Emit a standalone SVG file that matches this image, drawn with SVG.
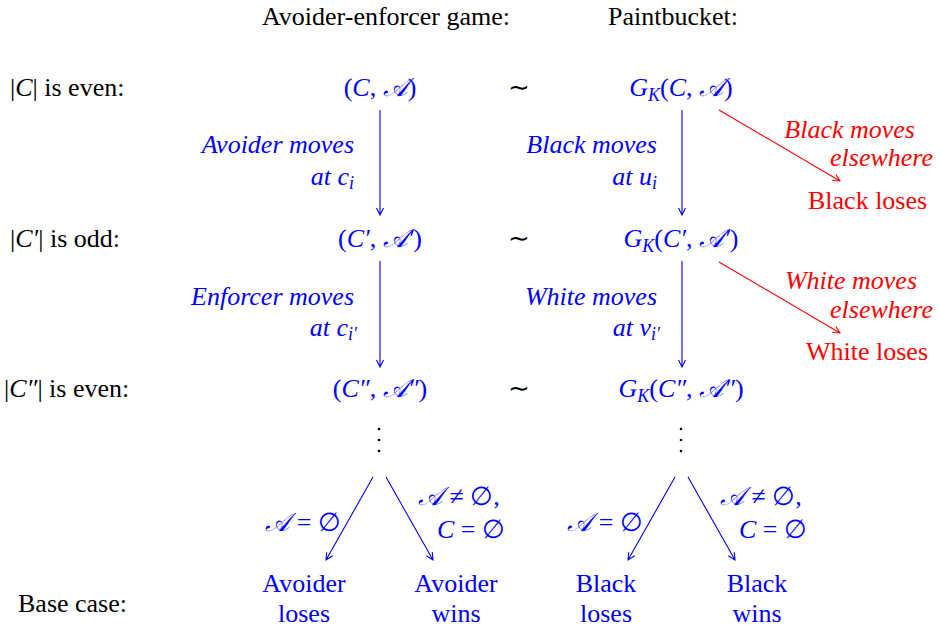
<svg xmlns="http://www.w3.org/2000/svg" width="941" height="632" viewBox="0 0 941 632">
<style>
.t{font-family:'Liberation Serif',serif;font-size:26px}
.b{fill:#0000ff}
.r{fill:#ff0000}
.k{fill:#000}
.i{font-style:italic}
.sub{font-size:18px}
.m{text-anchor:middle}
.e{text-anchor:end}
.cb{stroke:#0000ff;stroke-width:1.1;fill:none}
.cr{stroke:#ff0000;stroke-width:1.1;fill:none}
</style>

<g id="headers" class="k">
<text class="t m" font-family="Liberation Serif" x="386" y="25">Avoider-enforcer game:</text>
<text class="t m" font-family="Liberation Serif" x="673" y="25">Paintbucket:</text>
</g>

<g id="row-labels" class="k">
<text class="t" font-family="Liberation Serif" x="10" y="96">|<tspan class="i">C</tspan>| is even:</text>
<text class="t" font-family="Liberation Serif" x="10" y="247">|<tspan class="i">C′</tspan>| is odd:</text>
<text class="t" font-family="Liberation Serif" x="4" y="397">|<tspan class="i">C″</tspan>| is even:</text>
<text class="t" font-family="Liberation Serif" x="18" y="612">Base case:</text>
</g>

<g id="n1" class="b"><text class="t m" font-family="Liberation Serif" x="380" y="96">(<tspan class="i">C</tspan>, <tspan class="i">𝒜</tspan>)</text></g>
<g id="n2" class="b"><text class="t m" font-family="Liberation Serif" x="380" y="247">(<tspan class="i">C′</tspan>, <tspan class="i">𝒜′</tspan>)</text></g>
<g id="n3" class="b"><text class="t m" font-family="Liberation Serif" x="380" y="397">(<tspan class="i">C″</tspan>, <tspan class="i">𝒜″</tspan>)</text></g>
<g id="p1" class="b"><text class="t m" font-family="Liberation Serif" x="681" y="96"><tspan class="i">G</tspan><tspan class="i sub" dy="5">K</tspan><tspan dy="-5">(</tspan><tspan class="i">C</tspan>, <tspan class="i">𝒜</tspan>)</text></g>
<g id="p2" class="b"><text class="t m" font-family="Liberation Serif" x="681" y="247"><tspan class="i">G</tspan><tspan class="i sub" dy="5">K</tspan><tspan dy="-5">(</tspan><tspan class="i">C′</tspan>, <tspan class="i">𝒜′</tspan>)</text></g>
<g id="p3" class="b"><text class="t m" font-family="Liberation Serif" x="681" y="397"><tspan class="i">G</tspan><tspan class="i sub" dy="5">K</tspan><tspan dy="-5">(</tspan><tspan class="i">C″</tspan>, <tspan class="i">𝒜″</tspan>)</text></g>

<g id="sim" class="k">
<text class="t m" font-family="Liberation Serif" x="519" y="96">∼</text>
<text class="t m" font-family="Liberation Serif" x="519" y="247">∼</text>
<text class="t m" font-family="Liberation Serif" x="519" y="397">∼</text>
</g>

<g id="dots" class="k">
<circle cx="379" cy="429" r="1.3"/><circle cx="379" cy="440" r="1.3"/><circle cx="379" cy="451" r="1.3"/>
<circle cx="681" cy="429" r="1.3"/><circle cx="681" cy="440" r="1.3"/><circle cx="681" cy="451" r="1.3"/>
</g>

<g id="connectors">
<path class="cb" d="M380,110 V215 M376.5,208 L380,215 L383.5,208"/>
<path class="cb" d="M682,110 V215 M678.5,208 L682,215 L685.5,208"/>
<path class="cr" d="M719,110 L840,181 M832.3,180.5 L840,181 L835.8,174.5"/>
<path class="cb" d="M380,261 V367 M376.5,360 L380,367 L383.5,360"/>
<path class="cb" d="M682,261 V367 M678.5,360 L682,367 L685.5,360"/>
<path class="cr" d="M719,262 L840,333 M832.3,332.5 L840,333 L835.8,326.5"/>
<path class="cb" d="M373,477 L326,560 M326.7,552.2 L326,560 L332.7,555.7"/>
<path class="cb" d="M386,477 L433,560 M426.3,555.7 L433,560 L432.3,552.2"/>
<path class="cb" d="M675,477 L628,560 M628.7,552.2 L628,560 L634.7,555.7"/>
<path class="cb" d="M688,477 L735,560 M728.3,555.7 L735,560 L734.3,552.2"/>
</g>

<g id="edge-labels">
<text class="t b i e" font-family="Liberation Serif" x="354" y="153">Avoider moves</text>
<text class="t b i e" font-family="Liberation Serif" x="354" y="185">at <tspan>c</tspan><tspan class="sub" dy="4">i</tspan></text>
<text class="t b i e" font-family="Liberation Serif" x="657" y="153">Black moves</text>
<text class="t b i e" font-family="Liberation Serif" x="657" y="185">at <tspan>u</tspan><tspan class="sub" dy="4">i</tspan></text>
<text class="t r i e" font-family="Liberation Serif" x="915" y="138">Black moves</text>
<text class="t r i e" font-family="Liberation Serif" x="933" y="166">elsewhere</text>
<text class="t b i e" font-family="Liberation Serif" x="354" y="305">Enforcer moves</text>
<text class="t b i e" font-family="Liberation Serif" x="357" y="336">at <tspan>c</tspan><tspan class="sub" dy="4">i′</tspan></text>
<text class="t b i e" font-family="Liberation Serif" x="657" y="305">White moves</text>
<text class="t b i e" font-family="Liberation Serif" x="660" y="336">at <tspan>v</tspan><tspan class="sub" dy="4">i′</tspan></text>
<text class="t r i e" font-family="Liberation Serif" x="917" y="289">White moves</text>
<text class="t r i e" font-family="Liberation Serif" x="933" y="318">elsewhere</text>
<text class="t b e" font-family="Liberation Serif" x="341" y="531"><tspan class="i">𝒜</tspan> = ∅</text>
<text class="t b" font-family="Liberation Serif" x="418" y="505"><tspan class="i">𝒜</tspan> ≠ ∅,</text>
<text class="t b" font-family="Liberation Serif" x="437" y="538"><tspan class="i">C</tspan> = ∅</text>
<text class="t b e" font-family="Liberation Serif" x="643" y="531"><tspan class="i">𝒜</tspan> = ∅</text>
<text class="t b" font-family="Liberation Serif" x="720" y="505"><tspan class="i">𝒜</tspan> ≠ ∅,</text>
<text class="t b" font-family="Liberation Serif" x="739" y="538"><tspan class="i">C</tspan> = ∅</text>
</g>

<g id="outcome-black-loses"><text class="t r" font-family="Liberation Serif" x="808" y="209">Black loses</text></g>
<g id="outcome-white-loses"><text class="t r" font-family="Liberation Serif" x="806" y="360">White loses</text></g>
<g id="avoider-loses" class="b"><text class="t m" font-family="Liberation Serif" x="304" y="592">Avoider</text><text class="t m" font-family="Liberation Serif" x="304" y="622">loses</text></g>
<g id="avoider-wins" class="b"><text class="t m" font-family="Liberation Serif" x="456" y="592">Avoider</text><text class="t m" font-family="Liberation Serif" x="456" y="622">wins</text></g>
<g id="black-loses" class="b"><text class="t m" font-family="Liberation Serif" x="606" y="592">Black</text><text class="t m" font-family="Liberation Serif" x="606" y="622">loses</text></g>
<g id="black-wins" class="b"><text class="t m" font-family="Liberation Serif" x="757" y="592">Black</text><text class="t m" font-family="Liberation Serif" x="757" y="622">wins</text></g>
</svg>
